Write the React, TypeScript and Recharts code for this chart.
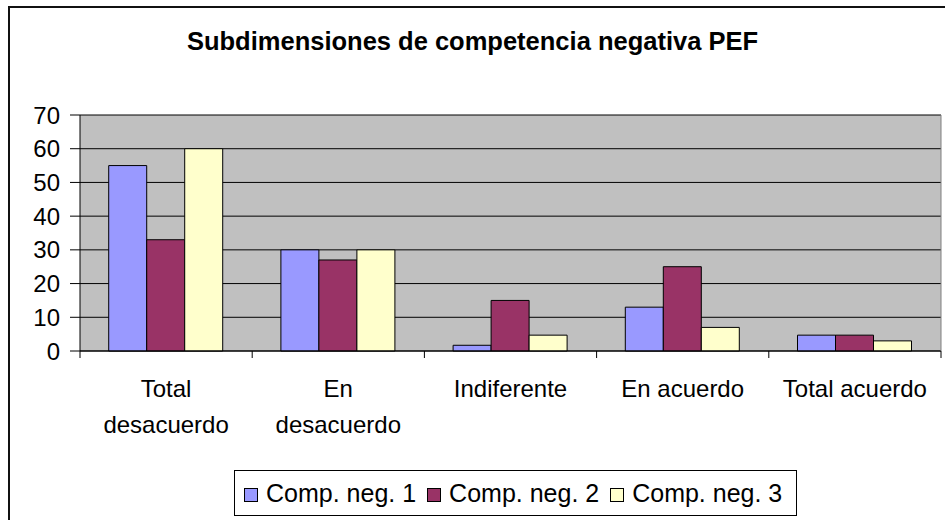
import React from "react";
import { BarChart, Bar, XAxis, YAxis, CartesianGrid, Legend } from "recharts";

const categories = ["Total\ndesacuerdo", "En\ndesacuerdo", "Indiferente", "En acuerdo", "Total acuerdo"];
const compNeg1 = [55, 30, 1.7, 13, 4.7];
const compNeg2 = [33, 27, 15, 25, 4.7];
const compNeg3 = [60, 30, 4.7, 7, 3];
const yTicks = [0, 10, 20, 30, 40, 50, 60, 70];

const series = [
  { key: "neg1", name: "Comp. neg. 1", color: "#9999FF" },
  { key: "neg2", name: "Comp. neg. 2", color: "#993366" },
  { key: "neg3", name: "Comp. neg. 3", color: "#FFFFCC" },
];

const data = categories.map((c, i) => ({
  cat: c,
  neg1: compNeg1[i],
  neg2: compNeg2[i],
  neg3: compNeg3[i],
}));

const FONT = '"Liberation Sans", Arial, sans-serif';

function CatTick(props: any) {
  const { x, y, payload, index } = props;
  const half = payload?.offset ?? 0;
  const lines = String(payload.value).split("\n");
  return (
    <g>
      <line x1={x - half} x2={x - half} y1={y} y2={y + 7} stroke="#000" />
      {index === categories.length - 1 && (
        <line x1={x + half} x2={x + half} y1={y} y2={y + 7} stroke="#000" />
      )}
      <text x={x} y={y + 46} textAnchor="middle" fontSize={24} fill="#000" fontFamily={FONT}>
        {lines.map((l, i) => (
          <tspan key={i} x={x} dy={i === 0 ? 0 : 36}>
            {l}
          </tspan>
        ))}
      </text>
    </g>
  );
}

function LegendBox() {
  return (
    <div
      style={{
        boxSizing: "border-box",
        width: 563,
        height: 46,
        border: "1px solid #000",
        background: "#fff",
        display: "flex",
        alignItems: "center",
        paddingLeft: 9,
        fontFamily: FONT,
        fontSize: 25,
        color: "#000",
        whiteSpace: "nowrap",
      }}
    >
      {series.map((s) => (
        <div key={s.key} style={{ display: "flex", alignItems: "center", marginRight: 11 }}>
          <span
            style={{
              boxSizing: "border-box",
              width: 14,
              height: 14,
              background: s.color,
              border: "1px solid #000",
              marginRight: 8,
              marginTop: 3,
            }}
          />
          <span>{s.name}</span>
        </div>
      ))}
    </div>
  );
}

export default function App() {
  return (
    <div
      style={{
        position: "absolute",
        left: 0,
        top: 0,
        width: 945,
        height: 520,
        overflow: "hidden",
        background: "#fff",
        fontFamily: FONT,
      }}
    >
      <div
        style={{
          position: "absolute",
          left: 8,
          top: 6,
          width: 980,
          height: 560,
          border: "2px solid #111",
        }}
      />
      <div
        style={{
          position: "absolute",
          left: 0,
          top: 29,
          width: 945,
          textAlign: "center",
          fontSize: 25.5,
          lineHeight: "25px",
          fontWeight: 700,
          color: "#000",
        }}
      >
        Subdimensiones de competencia negativa PEF
      </div>
      <BarChart
        width={945}
        height={520}
        data={data}
        margin={{ top: 115, right: 0, left: 8, bottom: 4 }}
        barCategoryGap="16.67%"
        barGap={0}
      >
        <CartesianGrid vertical={false} stroke="#000" fill="#C0C0C0" fillOpacity={1} />
        <XAxis
          dataKey="cat"
          height={119}
          interval={0}
          axisLine={{ stroke: "#000" }}
          tickLine={false}
          tickSize={0}
          tickMargin={0}
          tick={<CatTick />}
        />
        <YAxis
          width={72}
          domain={[0, 70]}
          ticks={yTicks}
          interval={0}
          tickSize={10}
          tickMargin={10}
          axisLine={{ stroke: "#000" }}
          tickLine={{ stroke: "#000" }}
          tick={{ fontSize: 24, fill: "#000", fontFamily: FONT }}
        />
        <YAxis
          yAxisId="r"
          orientation="right"
          width={4}
          domain={[0, 70]}
          tick={false}
          tickLine={false}
          axisLine={{ stroke: "#808080" }}
        />
        <Legend
          verticalAlign="bottom"
          content={<LegendBox />}
          wrapperStyle={{ left: 234, bottom: 4, width: 563, height: 46 }}
        />
        {series.map((s) => (
          <Bar
            key={s.key}
            dataKey={s.key}
            name={s.name}
            fill={s.color}
            stroke="#000"
            strokeWidth={1}
            isAnimationActive={false}
          />
        ))}
      </BarChart>
    </div>
  );
}
